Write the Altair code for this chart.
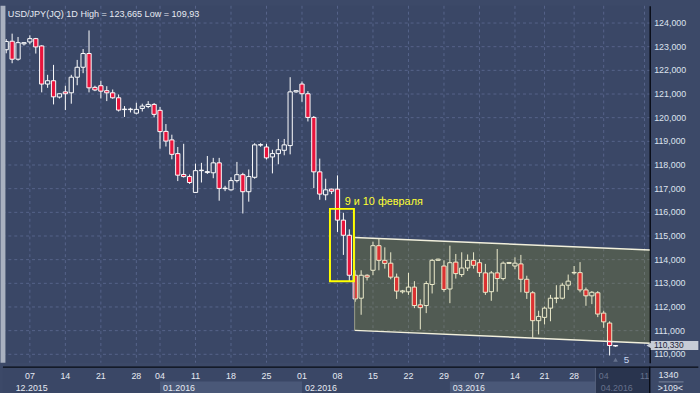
import altair as alt
import pandas as pd

# ---------------- data ----------------
opens = [122.85, 123.21, 122.45, 123.10, 123.18, 123.32, 123.01, 121.40, 121.54, 120.85,
         121.07, 121.03, 121.69, 122.11, 122.69, 121.26, 121.33, 121.12, 121.03, 120.82,
         120.32, 120.32, 120.17, 120.37, 120.45, 120.54, 120.29, 119.40, 119.04, 118.46,
         117.58, 117.49, 116.82, 117.74, 117.66, 117.65, 118.07, 116.98, 116.93, 117.32,
         117.57, 116.85, 117.46, 118.82, 118.74, 118.32, 118.46, 118.60, 118.80, 121.07,
         121.40, 120.99, 119.99, 117.69, 116.72, 116.96, 116.96, 115.65, 115.01, 113.32,
         112.35, 113.32, 113.53, 114.57, 113.95, 113.83, 113.24, 112.62, 112.62, 112.82,
         112.07, 112.04, 112.93, 113.95, 113.71, 112.74, 113.875, 113.35, 113.625, 113.95,
         113.85, 113.42, 112.625, 113.42, 113.18, 113.82, 113.71, 113.80, 113.15, 112.58,
         111.40, 111.54, 111.93, 112.34, 112.35, 112.90, 113.42, 113.43, 112.70, 112.45,
         112.58, 111.72, 111.30, 110.35]
highs = [123.30, 123.53, 123.39, 123.16, 123.46, 123.35, 123.04, 121.79, 122.21, 121.00,
         121.33, 121.79, 122.42, 122.88, 123.665, 121.33, 121.54, 121.31, 121.17, 120.96,
         120.47, 120.40, 120.61, 120.57, 120.68, 120.60, 120.43, 119.71, 119.26, 118.74,
         118.875, 117.58, 118.04, 118.07, 118.36, 118.28, 118.28, 117.10, 117.46, 118.11,
         117.65, 117.79, 118.90, 118.90, 118.875, 118.625, 119.08, 119.08, 121.69, 121.13,
         121.51, 121.10, 120.05, 118.25, 117.40, 116.98, 117.54, 115.96, 115.26, 113.53,
         113.53, 113.36, 114.74, 114.85, 114.50, 114.29, 113.39, 112.70, 113.42, 113.07,
         112.30, 113.07, 114.01, 114.02, 113.95, 114.57, 114.22, 114.29, 114.20, 114.29,
         114.00, 113.80, 113.50, 114.43, 113.90, 113.88, 114.08, 114.18, 113.30, 112.65,
         111.82, 112.00, 112.49, 112.90, 113.00, 113.35, 113.71, 113.875, 112.80, 112.65,
         112.65, 111.82, 111.375, 110.36]
lows = [122.70, 122.28, 122.39, 123.03, 123.08, 122.69, 121.05, 121.24, 120.54, 120.79,
        120.30, 120.57, 121.35, 121.86, 121.05, 121.10, 120.79, 120.68, 120.78, 120.24,
        120.01, 120.20, 120.12, 120.24, 120.38, 119.99, 118.67, 118.76, 118.22, 117.30,
        117.45, 117.18, 116.80, 117.24, 117.60, 117.42, 116.47, 116.875, 116.90, 117.24,
        115.93, 116.43, 117.40, 118.75, 118.21, 117.625, 118.01, 118.39, 118.43, 121.03,
        120.65, 119.82, 117.00, 116.51, 116.49, 116.75, 115.15, 114.18, 113.07, 112.20,
        111.65, 113.10, 113.32, 113.53, 113.60, 113.15, 112.32, 112.55, 112.49, 111.93,
        111.03, 111.72, 112.55, 113.93, 112.62, 112.14, 113.18, 113.25, 113.50, 113.60,
        113.25, 112.49, 112.24, 112.625, 113.10, 113.80, 113.57, 112.60, 112.32, 110.68,
        110.82, 111.24, 111.375, 112.14, 112.30, 112.70, 113.35, 112.60, 112.03, 112.10,
        111.55, 111.10, 109.93, 110.30]
closes = [123.20, 122.45, 123.15, 123.15, 123.32, 122.97, 121.40, 121.54, 120.86, 120.99,
          120.99, 121.69, 122.11, 122.69, 121.24, 121.15, 121.10, 121.03, 120.82, 120.30,
          120.34, 120.34, 120.33, 120.47, 120.54, 120.12, 119.39, 118.99, 118.43, 117.55,
          117.49, 117.24, 117.74, 117.76, 117.70, 118.07, 116.99, 117.00, 117.32, 117.57,
          116.85, 117.49, 118.83, 118.84, 118.28, 118.46, 118.625, 118.83, 121.07, 121.12,
          120.99, 119.99, 117.69, 116.75, 116.93, 116.87, 115.65, 115.01, 113.32, 112.32,
          113.32, 113.24, 114.57, 113.95, 113.82, 113.24, 112.65, 112.66, 112.82, 112.04,
          111.95, 112.97, 113.95, 114.00, 112.72, 113.85, 113.39, 113.625, 113.95, 113.74,
          113.43, 112.60, 113.42, 113.18, 113.83, 113.86, 113.83, 113.15, 112.60, 111.40,
          111.58, 111.93, 112.35, 112.36, 112.90, 113.07, 113.44, 112.70, 112.45, 112.60,
          111.68, 111.35, 110.35, 110.33]

day_pos = [4, 10, 16, 22, 26, 32, 38, 44, 50, 56, 62, 68, 74, 80, 86, 91, 96, 101, 107.9]
day_text = ["07", "14", "21", "28", "04", "11", "18", "25", "01", "08",
            "15", "22", "29", "07", "14", "21", "28", "04", "11"]
day_future = [0] * 17 + [1, 1]

month_text = ["12.2015", "01.2016", "02.2016", "03.2016", "04.2016"]
month_pos = [1.6, 26.5, 50.5, 75.5, 100.5]
month_future = [0, 0, 0, 0, 1]
band_start = [26, 75]
band_end = [50, 99.6]
future_start = 99.6

price_ticks = list(range(110, 125))

channel_x = [58.9, 108.78]
channel_top = [114.92, 114.39]
channel_bot = [110.99, 110.45]

box_x = [54.73, 58.78]
box_y = [113.07, 116.125]
note_text = "9 и 10 февраля"
title_text = "USD/JPY(JQ) 1D High = 123,665 Low = 109,93"
last_price = 110.33
last_label = "110,330"

# ---------------- styling ----------------
BG = "#3a4766"
PANEL = "#3c4968"
RED = "#e8143c"
GRID = "#56648a"
FONT = "Liberation Sans"
XD = [-0.55, 108.78]
YD = [109.625, 124.708]

xs = alt.Scale(domain=XD, nice=False, zero=False)
ys = alt.Scale(domain=YD, nice=False, zero=False)
yaxis = alt.Axis(orient="right", values=price_ticks, title=None, ticks=False,
                 labelExpr="replace(format(datum.value, '.3f'), '.', ',')",
                 domainColor="#080c16", domainWidth=1.5, labelColor="#dde3ee",
                 labelFont=FONT, labelFontSize=9, labelPadding=4,
                 grid=True, gridColor=GRID, gridDash=[3, 3], gridWidth=1,
                 minExtent=44, maxExtent=44, labelFlush=False, labelOverlap=False)


def X(f):
    return alt.X(f, type="quantitative", scale=xs, axis=None)


def Y(f):
    return alt.Y(f, type="quantitative", scale=ys, axis=yaxis)


n = len(opens)
candles = pd.DataFrame({
    "idx": list(range(n)), "o": opens, "h": highs, "l": lows, "c": closes,
})
candles["xl"] = candles["idx"] - 0.36
candles["xr"] = candles["idx"] + 0.36
candles["dir"] = ["up" if c >= o else "down" for o, c in zip(opens, closes)]

grid_v = alt.Chart(pd.DataFrame({"p": day_pos})).mark_rule(
    color=GRID, strokeDash=[3, 3], strokeWidth=1).encode(x=X("p"))

wicks = alt.Chart(candles).mark_rule(color="white", strokeWidth=1).encode(
    x=X("idx"), y=Y("l"), y2="h")

bodies = alt.Chart(candles).mark_rect(stroke="white", strokeWidth=1).encode(
    x=X("xl"), x2="xr", y=Y("o"), y2="c",
    fill=alt.Fill("dir:N", scale=alt.Scale(domain=["up", "down"], range=[BG, RED]), legend=None))

chan = pd.DataFrame({"x": channel_x, "top": channel_top, "bot": channel_bot})
chan_area = alt.Chart(chan).mark_area(color="#aaa410", opacity=0.21).encode(
    x=X("x"), y=Y("top"), y2="bot")
chan_top = alt.Chart(chan).mark_line(color="#f2f0dc", strokeWidth=1.5).encode(x=X("x"), y=Y("top"))
chan_bot = alt.Chart(chan).mark_line(color="#f2f0dc", strokeWidth=1.5).encode(x=X("x"), y=Y("bot"))
chan_left = alt.Chart(chan.iloc[:1]).mark_rule(color="#9c9f8c", strokeWidth=1).encode(
    x=X("x"), y=Y("top"), y2="bot")

box = alt.Chart(pd.DataFrame({"x1": [box_x[0]], "x2": [box_x[1]], "y1": [box_y[0]], "y2": [box_y[1]]})).mark_rect(
    fillOpacity=0, stroke="#ffff00", strokeWidth=2).encode(x=X("x1"), x2="x2", y=Y("y1"), y2="y2")

note = alt.Chart(pd.DataFrame({"x": [57.23], "y": [116.42], "t": [note_text]})).mark_text(
    align="left", baseline="middle", color="#ffff33", fontSize=11, font=FONT).encode(
    x=X("x"), y=Y("y"), text="t:N")

title = alt.Chart(pd.DataFrame({"x": [0.28], "y": [124.375], "t": [title_text]})).mark_text(
    align="left", baseline="middle", color="#e6eaf2", fontSize=9.2, font=FONT).encode(
    x=X("x"), y=Y("y"), text="t:N")

tag_df = pd.DataFrame({"x1": [108.95], "x2": [117.0], "y1": [last_price - 0.17], "y2": [last_price + 0.21],
                       "ax": [108.62], "tx": [109.5], "y": [last_price + 0.02], "t": [last_label]})
tag = alt.Chart(tag_df).mark_rect(color="#c6ccd6").encode(x=X("x1"), x2="x2", y=Y("y1"), y2="y2")
tag_arrow = alt.Chart(tag_df).mark_point(shape="triangle-left", filled=True, color="#c6ccd6",
                                         size=30, opacity=1).encode(x=X("ax"), y=Y("y"))
tag_text = alt.Chart(tag_df).mark_text(align="left", baseline="middle", color="#1c2438",
                                       fontSize=8.5, font=FONT).encode(x=X("tx"), y=Y("y"), text="t:N")

mk = pd.DataFrame({"x": [103.0], "y": [109.75], "tx": [104.4], "t": ["5"]})
mk_tri = alt.Chart(mk).mark_point(shape="triangle-up", filled=True, color="#66728e", size=22,
                                  opacity=1).encode(x=X("x"), y=Y("y"))
mk_txt = alt.Chart(mk).mark_text(align="left", baseline="middle", color="#c8d6f0", fontSize=10,
                                 font=FONT).encode(x=X("tx"), y=Y("y"), text="t:N")

left_border = alt.Chart(pd.DataFrame({"x": [XD[0]]})).mark_rule(
    color="#a9b1c0", strokeWidth=5).encode(x=X("x"))

top = alt.layer(grid_v, wicks, bodies, chan_area, chan_top, chan_bot, chan_left, box, note,
                title, tag, tag_arrow, tag_text, mk_tri, mk_txt, left_border).properties(
    width=656, height=362)

# ---------------- bottom date panel ----------------
ps = alt.Scale(domain=[31, 0], nice=False, zero=False)


def PY(f):
    return alt.Y(f, type="quantitative", scale=ps, axis=None)


bands = alt.Chart(pd.DataFrame({"a": band_start, "b": band_end, "y1": [15, 15], "y2": [28, 28]})).mark_rect(
    color="#4a5878").encode(x=X("a"), x2="b", y=PY("y1"), y2="y2")
future = alt.Chart(pd.DataFrame({"a": [future_start], "b": [XD[1]], "y1": [1], "y2": [28]})).mark_rect(
    color="#29344e").encode(x=X("a"), x2="b", y=PY("y1"), y2="y2")
future_edge = alt.Chart(pd.DataFrame({"a": [future_start], "y1": [1], "y2": [28]})).mark_rule(
    color="#56627e", strokeWidth=1).encode(x=X("a"), y=PY("y1"), y2="y2")

days = pd.DataFrame({"p": day_pos, "t": day_text, "f": day_future, "y": [10] * len(day_pos)})
day_lbl = alt.Chart(days).mark_text(baseline="middle", align="center", fontSize=9, font=FONT).encode(
    x=X("p"), y=PY("y"), text="t:N",
    color=alt.Color("f:N", scale=alt.Scale(domain=[0, 1], range=["#e6eaf2", "#66718c"]), legend=None))

months = pd.DataFrame({"p": month_pos, "t": month_text, "f": month_future, "y": [21.5] * len(month_pos)})
month_lbl = alt.Chart(months).mark_text(baseline="middle", align="left", fontSize=9, font=FONT).encode(
    x=X("p"), y=PY("y"), text="t:N",
    color=alt.Color("f:N", scale=alt.Scale(domain=[0, 1], range=["#e6eaf2", "#66718c"]), legend=None))

top_line = alt.Chart(pd.DataFrame({"a": [XD[0]], "b": [117.0], "y": [0.5]})).mark_rule(
    color="#080c16", strokeWidth=1.5).encode(x=X("a"), x2="b", y=PY("y"))
right_line = alt.Chart(pd.DataFrame({"a": [XD[1]], "y1": [0], "y2": [28]})).mark_rule(
    color="#080c16", strokeWidth=1.5).encode(x=X("a"), y=PY("y1"), y2="y2")
bottom_strip = alt.Chart(pd.DataFrame({"a": [XD[0]], "b": [117.0], "y1": [28], "y2": [31.5]})).mark_rect(
    color="#b9bfca").encode(x=X("a"), x2="b", y=PY("y1"), y2="y2")

corner = pd.DataFrame({"x": [111.95, 112.28], "y": [9, 22], "t": ["1340", ">109<"]})
corner_txt = alt.Chart(corner).mark_text(baseline="middle", align="center", fontSize=9, font=FONT,
                                          color="#e0e6f0").encode(x=X("x"), y=PY("y"), text="t:N")
corner_sep = alt.Chart(pd.DataFrame({"a": [110.3], "b": [114.5], "y": [15.5]})).mark_rule(
    color="#7a869e", strokeWidth=1).encode(x=X("a"), x2="b", y=PY("y"))

bottom = alt.layer(bands, future, future_edge, day_lbl, month_lbl, top_line, right_line,
                   bottom_strip, corner_txt, corner_sep).properties(width=656, height=31)

chart = alt.vconcat(top, bottom, spacing=0).properties(
    padding=0, background=PANEL
).configure_view(stroke=None, fill=BG)

chart.save("out.html", embed_options={"renderer": "svg", "actions": False})
